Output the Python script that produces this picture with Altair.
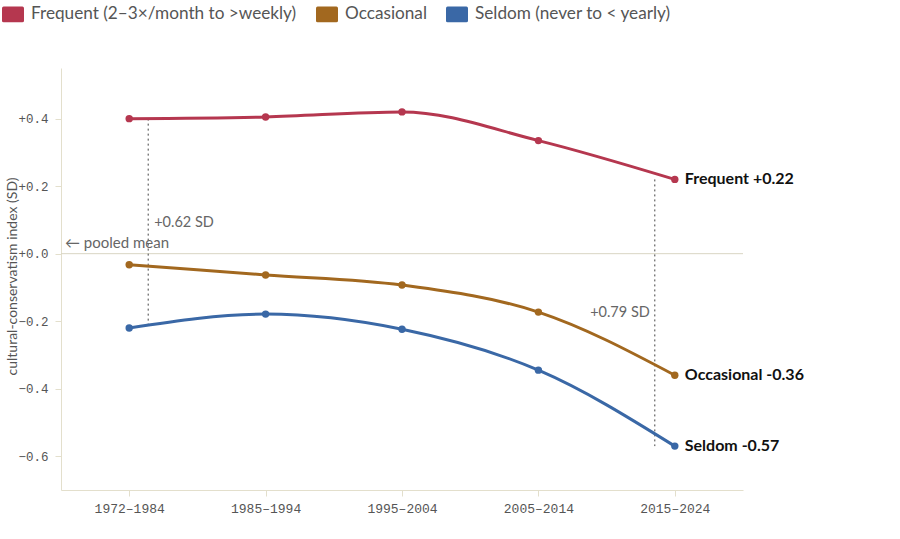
import altair as alt
import pandas as pd

periods = ["1972–1984", "1985–1994", "1995–2004", "2005–2014", "2015–2024"]
groups = ["Frequent (2–3×/month to >weekly)", "Occasional", "Seldom (never to < yearly)"]
short = ["Frequent", "Occasional", "Seldom"]
frequent = [0.40, 0.405, 0.42, 0.335, 0.22]
occasional = [-0.033, -0.063, -0.093, -0.173, -0.36]
seldom = [-0.22, -0.179, -0.224, -0.345, -0.57]
colors = ["#b5374f", "#a2681f", "#3a68a6"]

gap_periods = ["1972–1984", "2015–2024"]
gap_top = [0.40, 0.22]
gap_bottom = [-0.22, -0.57]

rows = []
for g, vals in zip(groups, [frequent, occasional, seldom]):
    for p, v in zip(periods, vals):
        rows.append({"period": p, "group": g, "value": v})
df = pd.DataFrame(rows)

end_vals = [frequent[-1], occasional[-1], seldom[-1]]
end_df = pd.DataFrame({
    "period": [periods[-1]] * 3,
    "group": groups,
    "value": end_vals,
    "label": [f"{s} {v:+.2f}" for s, v in zip(short, end_vals)],
})

gap_df = pd.DataFrame({"period": gap_periods, "top": gap_top, "bottom": gap_bottom})

x = alt.X("period:N", sort=periods, title=None,
          scale=alt.Scale(type="point", padding=0.5),
          axis=alt.Axis(labelAngle=0, labelFont="Liberation Mono", labelFontSize=13,
                        labelColor="#555555", domainColor="#e3dfcc", tickColor="#e3dfcc",
                        tickSize=6, labelPadding=6, grid=False))
y_scale = alt.Scale(domain=[-0.7, 0.55], nice=False, zero=False)
y_axis = alt.Axis(values=[-0.6, -0.4, -0.2, 0.0, 0.2, 0.4],
                  labelExpr="replace(format(datum.value, '+.1f'), '-', '−')",
                  labelFont="Liberation Mono", labelFontSize=12.5, labelColor="#555555",
                  labelPadding=7,
                  domainColor="#e3dfcc", tickColor="#e3dfcc", tickSize=6, grid=False,
                  title="cultural-conservatism index (SD)", titleFont="Lato",
                  titleFontSize=14, titleFontWeight="normal", titleColor="#555555",
                  titleX=-49, titleY=208, titleAngle=270, titleAlign="center",
                  titleBaseline="middle")

color = alt.Color("group:N", sort=groups,
                  scale=alt.Scale(domain=groups, range=colors),
                  legend=alt.Legend(title=None, orient="none", direction="horizontal",
                                    legendX=-59, legendY=-65,
                                    symbolType="M-0.85,-0.72 L0.85,-0.72 Q1,-0.72 1,-0.57 L1,0.57 Q1,0.72 0.85,0.72 L-0.85,0.72 Q-1,0.72 -1,0.57 L-1,-0.57 Q-1,-0.72 -0.85,-0.72 Z",
                                    symbolSize=484, symbolStrokeWidth=0, symbolOpacity=1,
                                    labelFont="Lato", labelFontSize=17.2, labelColor="#555555",
                                    labelLimit=400, labelOffset=7, columnPadding=19))

base = alt.Chart(df)

zero_rule = alt.Chart(pd.DataFrame({"y": [0.0]})).mark_rule(color="#d9d5c3", strokeWidth=1).encode(
    y=alt.Y("y:Q", scale=y_scale, axis=y_axis))

gap_rule_1 = alt.Chart(gap_df.iloc[[0]]).mark_rule(color="#444444", strokeDash=[2, 3], strokeWidth=1, xOffset=19).encode(
    x=x, y=alt.Y("top:Q", scale=y_scale), y2="bottom:Q")
gap_rule_2 = alt.Chart(gap_df.iloc[[1]]).mark_rule(color="#444444", strokeDash=[2, 3], strokeWidth=1, xOffset=-20).encode(
    x=x, y=alt.Y("top:Q", scale=y_scale), y2="bottom:Q")

gap_text_1 = alt.Chart(pd.DataFrame({"period": [gap_periods[0]], "v": [0.09], "t": ["+0.62 SD"]})).mark_text(
    align="left", baseline="middle", dx=25, font="Lato", fontSize=14.5, color="#666666").encode(
    x=x, y=alt.Y("v:Q", scale=y_scale), text="t:N")
gap_text_2 = alt.Chart(pd.DataFrame({"period": [gap_periods[1]], "v": [-0.175], "t": ["+0.79 SD"]})).mark_text(
    align="right", baseline="middle", dx=-25, font="Lato", fontSize=14.5, color="#666666").encode(
    x=x, y=alt.Y("v:Q", scale=y_scale), text="t:N")

pooled = alt.Chart(pd.DataFrame({"v": [0.0], "t": ["← pooled mean"]})).mark_text(
    align="left", baseline="bottom", dy=-3, font="Lato", fontSize=15, color="#666666").encode(
    x=alt.value(4), y=alt.Y("v:Q", scale=y_scale), text="t:N")

lines = base.mark_line(interpolate="monotone", strokeWidth=3).encode(
    x=x, y=alt.Y("value:Q", scale=y_scale), color=color)
points = base.mark_circle(size=55, opacity=1).encode(
    x=x, y=alt.Y("value:Q", scale=y_scale),
    color=alt.Color("group:N", sort=groups, scale=alt.Scale(domain=groups, range=colors), legend=None))
labels = alt.Chart(end_df).mark_text(align="left", baseline="middle", dx=10, font="Lato",
                                     fontSize=16, fontWeight="bold", color="#111111").encode(
    x=x, y=alt.Y("value:Q", scale=y_scale), text="label:N")

chart = alt.layer(zero_rule, gap_rule_1, gap_rule_2, gap_text_1, gap_text_2, pooled,
                  lines, points, labels).properties(
    width=682, height=422,
    autosize=alt.AutoSizeParams(type="none"),
    padding={"left": 61, "top": 68, "right": 157, "bottom": 49},
    background="white",
).configure_view(strokeWidth=0, stroke="transparent")

chart.save("out.html", embed_options={"renderer": "svg", "actions": False})
